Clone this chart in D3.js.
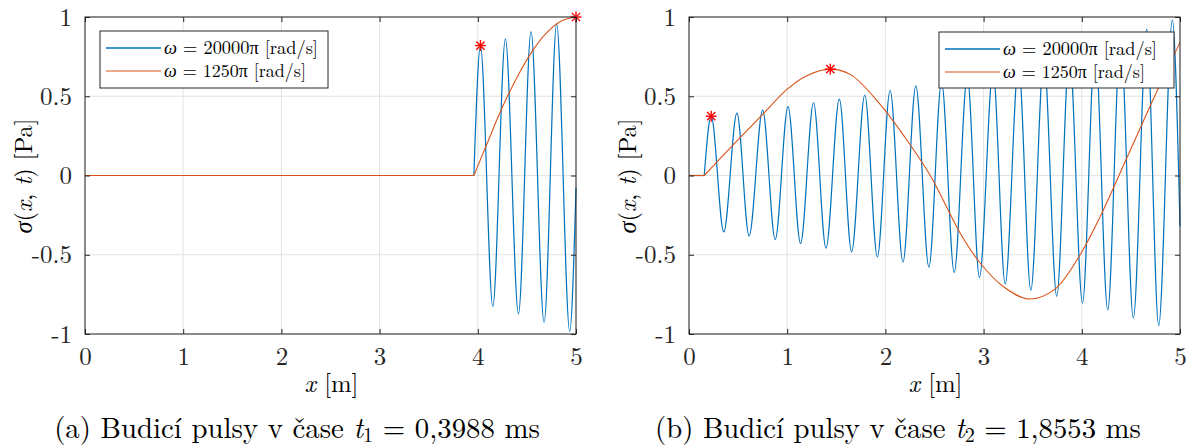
<!DOCTYPE html>
<html><head><meta charset="utf-8">
<script src="https://cdn.jsdelivr.net/npm/d3@7"></script>
</head>
<body style="margin:0;background:#fff"><svg id="c" width="1189" height="447"></svg>
<script>
// ---------- data ----------
const xTicks = [0, 1, 2, 3, 4, 5];
const yTicks = [-1, -0.5, 0, 0.5, 1];
const yTickLabels = ["-1", "-0.5", "0", "0.5", "1"];
const seriesNames = ["ω = 20000π [rad/s]", "ω = 1250π [rad/s]"];

// panel (a)  t1 = 0,3988 ms
const aOnset = 3.96;
const aBlueX = [3.96, 4.027, 4.153, 4.281, 4.414, 4.542, 4.675, 4.803, 4.936, 5.0];
const aBlueY = [0, 0.816, -0.826, 0.862, -0.874, 0.908, -0.927, 0.956, -0.983, -0.08];
const aOrangeX = [3.96, 4.1, 4.25, 4.4, 4.55, 4.7, 4.85, 5.0];
const aOrangeY = [0, 0.21, 0.43, 0.62, 0.78, 0.9, 0.975, 1.0];
const aStarX = [4.027, 5.0];
const aStarY = [0.82, 1.0];

// panel (b)  t2 = 1,8553 ms
const bOnset = 0.155;
const bBlueX = [0.155, 0.226, 0.354, 0.488, 0.612, 0.75, 0.878, 1.008, 1.136, 1.268, 1.395, 1.531, 1.656, 1.79, 1.918, 2.048, 2.179, 2.31, 2.443, 2.572, 2.701, 2.834, 2.958, 3.096, 3.22, 3.356, 3.481, 3.614, 3.745, 3.874, 4.007, 4.136, 4.264, 4.395, 4.525, 4.661, 4.783, 4.922, 5.0];
const bBlueY = [0, 0.374, -0.356, 0.393, -0.381, 0.413, -0.404, 0.434, -0.429, 0.459, -0.458, 0.482, -0.481, 0.508, -0.513, 0.538, -0.546, 0.565, -0.578, 0.59, -0.611, 0.626, -0.643, 0.662, -0.684, 0.70, -0.724, 0.737, -0.762, 0.78, -0.805, 0.827, -0.849, 0.874, -0.90, 0.923, -0.948, 0.98, -0.32];
const bOrangeX = [0.155, 0.442, 0.748, 1.0, 1.2, 1.439, 1.65, 1.949, 2.2, 2.457, 2.762, 2.965, 3.2, 3.457, 3.72, 3.983, 4.186, 4.458, 4.712, 5.0];
const bOrangeY = [0, 0.189, 0.384, 0.545, 0.63, 0.671, 0.635, 0.447, 0.24, 0, -0.364, -0.552, -0.70, -0.779, -0.72, -0.5, -0.261, 0.11, 0.46, 0.84];
const bStarX = [0.226, 1.439];
const bStarY = [0.374, 0.671];

const captions = [
  ["(a) Budicí pulsy v čase ", "t", "1", " = 0,3988 ms"],
  ["(b) Budicí pulsy v čase ", "t", "2", " = 1,8553 ms"]
];

// ---------- drawing ----------
const F_TEX = '"Latin Modern Roman"';
const svg = d3.select("#c");
const C_BLUE = "#0072BD", C_ORANGE = "#D95319", C_AX = "#262626", C_GRID = "#e3e3e3";

const panels = [
  {x0: 85, x1: 576, onset: aOnset, bx: aBlueX, by: aBlueY, ox: aOrangeX, oy: aOrangeY, sx: aStarX, sy: aStarY,
   legend: {x: 100, y: 31, w: 228, h: 57}, cap: captions[0], capCx: 297},
  {x0: 689, x1: 1180, onset: bOnset, bx: bBlueX, by: bBlueY, ox: bOrangeX, oy: bOrangeY, sx: bStarX, sy: bStarY,
   legend: {x: 939, y: 32, w: 235, h: 56}, cap: captions[1], capCx: 898}
];
const yTop = 17, yBot = 334;

function txt(sel, size) { return sel.attr("font-family", null).style("font-family", F_TEX).style("font-size", size + "px").attr("fill", "#000"); }
function fit(sel, target) {
  const w = sel.node().getComputedTextLength();
  const fs = parseFloat(sel.style("font-size"));
  sel.style("font-size", (fs * target / w) + "px");
}

panels.forEach((p, i) => {
  const x = d3.scaleLinear().domain([0, 5]).range([p.x0, p.x1]);
  const y = d3.scaleLinear().domain([-1, 1]).range([yBot, yTop]);
  const g = svg.append("g");

  // grid
  g.selectAll(".gx").data(xTicks).join("line")
    .attr("x1", d => x(d)).attr("x2", d => x(d)).attr("y1", yTop).attr("y2", yBot)
    .attr("stroke", C_GRID).attr("stroke-width", 1);
  g.selectAll(".gy").data(yTicks).join("line")
    .attr("x1", p.x0).attr("x2", p.x1).attr("y1", d => y(d)).attr("y2", d => y(d))
    .attr("stroke", C_GRID).attr("stroke-width", 1);

  // lines
  const flat = d3.line().x(d => x(d[0])).y(d => y(d[1]));
  const bcurve = d3.line().x(d => x(d[0])).y(d => y(d[1])).curve(d3.curveMonotoneX);
  const ocurve = d3.line().x(d => x(d[0])).y(d => y(d[1])).curve(d3.curveCatmullRom.alpha(0.5));
  const blue = p.bx.map((v, k) => [v, p.by[k]]);
  const orange = p.ox.map((v, k) => [v, p.oy[k]]);
  g.append("path").attr("d", flat([[0, 0], [p.onset, 0]])).attr("fill", "none").attr("stroke", C_BLUE).attr("stroke-width", 1.2);
  g.append("path").attr("d", bcurve(blue)).attr("fill", "none").attr("stroke", C_BLUE).attr("stroke-width", 1.2);
  g.append("path").attr("d", flat([[0, 0], [p.onset, 0]])).attr("fill", "none").attr("stroke", C_ORANGE).attr("stroke-width", 1.1);
  g.append("path").attr("d", ocurve(orange)).attr("fill", "none").attr("stroke", C_ORANGE).attr("stroke-width", 1.1);

  // star markers
  const r = 5.5, rd = r * 0.75;
  p.sx.forEach((sxv, k) => {
    const cx = x(sxv), cy = y(p.sy[k]);
    const m = g.append("g").attr("stroke", "#ff0000").attr("stroke-width", 1.4);
    m.append("line").attr("x1", cx - r).attr("x2", cx + r).attr("y1", cy).attr("y2", cy);
    m.append("line").attr("x1", cx).attr("x2", cx).attr("y1", cy - r).attr("y2", cy + r);
    m.append("line").attr("x1", cx - rd).attr("x2", cx + rd).attr("y1", cy - rd).attr("y2", cy + rd);
    m.append("line").attr("x1", cx - rd).attr("x2", cx + rd).attr("y1", cy + rd).attr("y2", cy - rd);
  });

  // axes box + ticks (inside, all four sides)
  const tl = 5;
  g.append("rect").attr("x", p.x0).attr("y", yTop).attr("width", p.x1 - p.x0).attr("height", yBot - yTop)
    .attr("fill", "none").attr("stroke", C_AX).attr("stroke-width", 1);
  const axB = d3.axisBottom(x).tickValues(xTicks).tickSize(-tl).tickFormat(d3.format("d")).tickPadding(13);
  const axT = d3.axisTop(x).tickValues(xTicks).tickSize(-tl).tickFormat("");
  const axL = d3.axisLeft(y).tickValues(yTicks).tickSize(-tl).tickFormat((d, k) => yTickLabels[k]).tickPadding(13);
  const axR = d3.axisRight(y).tickValues(yTicks).tickSize(-tl).tickFormat("");
  [[axB, `translate(0,${yBot})`], [axT, `translate(0,${yTop})`], [axL, `translate(${p.x0},0)`], [axR, `translate(${p.x1},0)`]]
    .forEach(([ax, tr]) => {
      const a = g.append("g").attr("transform", tr).call(ax).attr("font-family", null).attr("font-size", null);
      a.select(".domain").remove();
      a.selectAll(".tick line").attr("stroke", C_AX);
      txt(a.selectAll(".tick text"), 25).attr("fill", C_AX);
    });

  // legend
  const L = p.legend;
  const lg = g.append("g");
  lg.append("rect").attr("x", L.x).attr("y", L.y).attr("width", L.w).attr("height", L.h)
    .attr("fill", "#fff").attr("stroke", C_AX).attr("stroke-width", 1);
  [C_BLUE, C_ORANGE].forEach((c, k) => {
    const ry = L.y + 17 + k * 23;
    lg.append("line").attr("x1", L.x + 6).attr("x2", L.x + 61).attr("y1", ry).attr("y2", ry)
      .attr("stroke", c).attr("stroke-width", k === 0 ? 1.4 : 1.1);
    const t = txt(lg.append("text"), 20).attr("x", L.x + 64).attr("y", ry).attr("dy", "0.35em");
    const parts = seriesNames[k].split(" = ");
    t.append("tspan").style("font-style", "italic").text(parts[0]);
    t.append("tspan").text(" = " + parts[1]);
    fit(t, k === 0 ? 154 : 142);
  });

  // axis labels
  const cx = (p.x0 + p.x1) / 2;
  const xl = txt(g.append("text"), 24).attr("x", cx + 1).attr("y", 383).attr("dy", "0.35em").attr("text-anchor", "middle");
  xl.append("tspan").style("font-style", "italic").text("x");
  xl.append("tspan").text(" [m]");
  fit(xl, 54);

  const yl = txt(g.append("text"), 24).attr("transform", `translate(${p.x0 - 62},176) rotate(-90)`).attr("text-anchor", "middle")
    .attr("dy", "0.35em");
  yl.append("tspan").style("font-style", "italic").text("σ");
  yl.append("tspan").text("(");
  yl.append("tspan").style("font-style", "italic").text("x");
  yl.append("tspan").text(", ");
  yl.append("tspan").style("font-style", "italic").text("t");
  yl.append("tspan").text(")  [Pa]");
  fit(yl, 115);

  // caption
  const ct = txt(g.append("text"), 26).attr("x", p.capCx).attr("y", 428).attr("dy", "0.35em").attr("text-anchor", "middle");
  ct.append("tspan").text(p.cap[0]);
  ct.append("tspan").style("font-style", "italic").text(p.cap[1]);
  ct.append("tspan").attr("dy", "4").style("font-size", "0.7em").text(p.cap[2]);
  ct.append("tspan").attr("dy", "-4").text(p.cap[3]);
  fit(ct, 486);
});
</script></body></html>
